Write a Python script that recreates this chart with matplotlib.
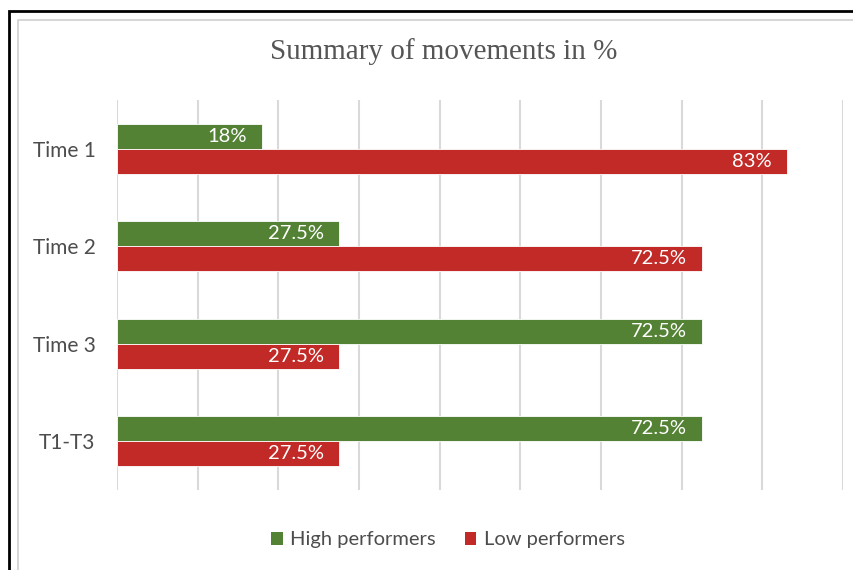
import matplotlib
matplotlib.use("Agg")
import matplotlib.pyplot as plt
from matplotlib.patches import Rectangle, Patch
import numpy as np

categories = ["Time 1", "Time 2", "Time 3", "T1-T3"]
high = [18, 27.5, 72.5, 72.5]
low = [83, 72.5, 27.5, 27.5]
high_labels = ["18%", "27.5%", "72.5%", "72.5%"]
low_labels = ["83%", "72.5%", "27.5%", "27.5%"]
series_names = ["High performers", "Low performers"]

green = "#548235"
red = "#C12A27"
text_grey = "#4d4d4d"
font = "Lato"

W, H = 854, 570
fig = plt.figure(figsize=(W / 100, H / 100), dpi=100)
fig.patch.set_facecolor("white")

# frames
fig.add_artist(Rectangle((9 / W, -0.1), 1.2, 1 - 11 / H + 0.1, transform=fig.transFigure,
                         fill=False, edgecolor="black", linewidth=2.0))
fig.add_artist(Rectangle((18.5 / W, -0.1), 1.2, 1 - 19.5 / H + 0.1, transform=fig.transFigure,
                         fill=False, edgecolor="#d0d0d0", linewidth=1.2))

ax = fig.add_axes([117 / W, 1 - 490 / H, (843 - 117) / W, 390 / H])
ax.set_facecolor("none")
n = len(categories)
y = np.arange(n)
bh = 25 / 97
ax.barh(y - bh / 2, high, height=bh, color=green, edgecolor="white", linewidth=0.6, zorder=3)
ax.barh(y + bh / 2, low, height=bh, color=red, edgecolor="white", linewidth=0.6, zorder=3)

pad = 15 / 8.07
for i in range(n):
    ax.text(high[i] - pad, y[i] - bh / 2, high_labels[i], ha="right", va="center",
            color="white", fontsize=14.5, family=font, zorder=4)
    ax.text(low[i] - pad, y[i] + bh / 2, low_labels[i], ha="right", va="center",
            color="white", fontsize=14.5, family=font, zorder=4)

ax.set_xlim(0, 90)
ax.set_ylim(n - 0.5, -0.5)
ax.set_xticks(np.arange(0, 91, 10))
ax.set_xticklabels([])
ax.grid(axis="x", color="#d9d9d9", linewidth=1.5, zorder=0)
ax.tick_params(axis="both", length=0)
ax.set_yticks(y)
ax.set_yticklabels(categories, fontsize=15, family=font, color=text_grey)
ax.tick_params(axis="y", pad=15.5)
for s in ax.spines.values():
    s.set_visible(False)

fig.text(444 / W, 1 - 52 / H, "Summary of movements in %", ha="center", va="center",
         fontsize=21, family="Liberation Serif", color="#555555")

handles = [Patch(facecolor=green, label=series_names[0]), Patch(facecolor=red, label=series_names[1])]
fig.legend(handles=handles, loc="center", bbox_to_anchor=(448 / W, 1 - 540 / H), ncol=2,
           frameon=False, prop={"family": font, "size": 14.5}, labelcolor=text_grey,
           handlelength=0.55, handleheight=0.6, handletextpad=0.35, columnspacing=1.5)

fig.savefig("out.png", dpi=100, facecolor="white")
